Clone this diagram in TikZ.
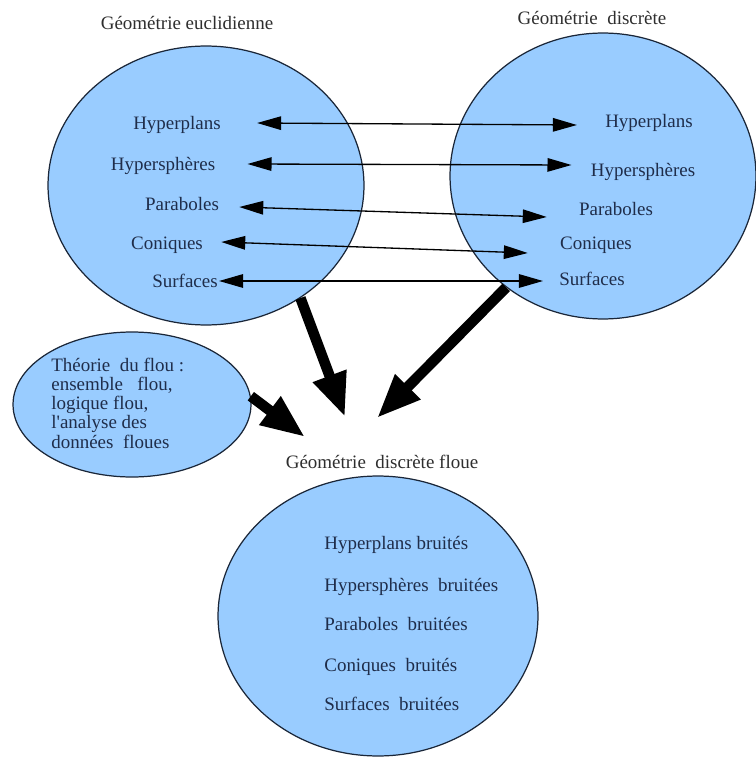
\documentclass[tikz,border=0pt]{standalone}
\usepackage{fontspec}
\setmainfont{Liberation Serif}
\usetikzlibrary{shapes.geometric,arrows.meta}
\definecolor{bleubulle}{HTML}{99CCFF}
\definecolor{encre}{HTML}{1F2D4A}
\definecolor{contour}{HTML}{1A2638}
\definecolor{gristitre}{HTML}{2E2E2E}

\begin{document}
\begin{tikzpicture}[x=0.02cm,y=-0.02cm,
  every node/.style={font=\fontsize{10.8}{11}\selectfont,inner sep=0pt},
  bulle/.style={ellipse,draw=contour,fill=bleubulle,line width=0.7pt},
  mot/.style={text=encre,text height=0.9em,text depth=0.2em},
  titre/.style={text=gristitre,text height=0.9em,text depth=0.2em},
  fine/.style={{Triangle[length=0.48cm,width=0.27cm]}-{Triangle[length=0.48cm,width=0.27cm]},line width=0.75pt},
  grosse/.style={-{Triangle[length=0.88cm,width=0.66cm]},line width=0.21cm}]
\path[use as bounding box,fill=white] (0,0) rectangle (756,760);

% les quatre bulles
\node[bulle,minimum width=6.32cm,minimum height=5.58cm] (euc) at (206,185.5) {};
\node[bulle,minimum width=6.12cm,minimum height=5.72cm] (disc) at (603,176) {};
\node[bulle,minimum width=4.76cm,minimum height=2.9cm] (flou) at (132,404.5) {};
\node[bulle,minimum width=6.4cm,minimum height=5.6cm] (floue) at (378,616) {};

% titres
\node[titre] (tEuc) at (187,23) {Géométrie euclidienne};
\node[titre] (tDisc) at (592,18) {Géométrie~ discrète};
\node[titre] (tFloue) at (382,462) {Géométrie~ discrète floue};

% géométrie euclidienne
\node[mot] (hpE) at (177,123) {Hyperplans};
\node[mot] (hsE) at (163,164) {Hypersphères};
\node[mot] (paE) at (182,204) {Paraboles};
\node[mot] (coE) at (167,243) {Coniques};
\node[mot] (suE) at (185,281) {Surfaces};

% géométrie discrète
\node[mot] (hpD) at (649,121) {Hyperplans};
\node[mot] (hsD) at (643,170) {Hypersphères};
\node[mot] (paD) at (616,209) {Paraboles};
\node[mot] (coD) at (596,243) {Coniques};
\node[mot] (suD) at (592,279) {Surfaces};

% théorie du flou
\node[text=encre,align=left,anchor=west,font=\fontsize{10.8}{10.95}\selectfont] (txtFlou) at (51,403)
  {Théorie~ du flou :\\ensemble~~ flou,\\logique flou,\\l\textquotesingle analyse des\\données~ floues};

% géométrie discrète floue
\node[mot,anchor=west] (hpF) at (324,543) {Hyperplans bruités};
\node[mot,anchor=west] (hsF) at (324,585) {Hypersphères~ bruitées};
\node[mot,anchor=west] (paF) at (324,624) {Paraboles~ bruitées};
\node[mot,anchor=west] (coF) at (324,665) {Coniques~ bruités};
\node[mot,anchor=west] (suF) at (324,704) {Surfaces~ bruitées};

% correspondances
\draw[fine] ([shift={(36,0)}]hpE.east) -- ([shift={(-28,4)}]hpD.west);
\draw[fine] ([shift={(32,0)}]hsE.east) -- ([shift={(-19,-5)}]hsD.west);
\draw[fine] ([shift={(20,3)}]paE.east) -- ([shift={(-32,8)}]paD.west);
\draw[fine] ([shift={(18,-1)}]coE.east) -- ([shift={(-32,10)}]coD.west);
\draw[fine] ([shift={(1,0)}]suE.east) -- ([shift={(-16,2)}]suD.west);

% vers la géométrie discrète floue
\coordinate (versA) at (345,417);
\coordinate (versB) at (377,418);
\coordinate (versC) at (305,437);
\draw[grosse] (euc.-50) -- (versA);
\draw[grosse] (disc.-131) -- (versB);
\draw[grosse] (flou.4) -- (versC);
\end{tikzpicture}
\end{document}
